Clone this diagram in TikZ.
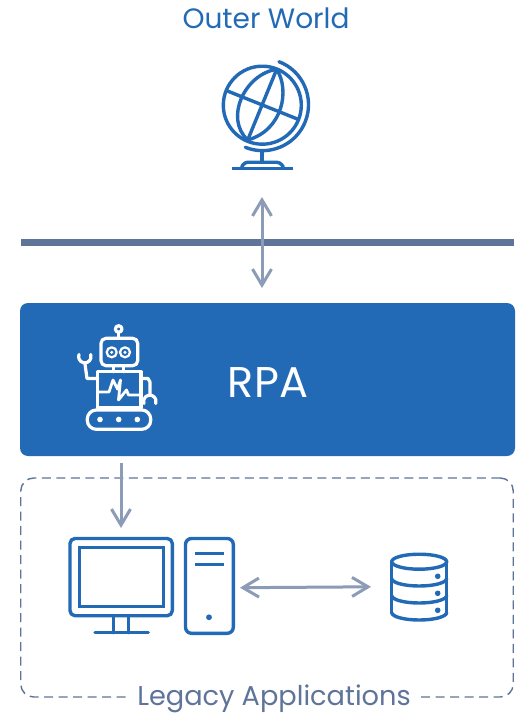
\documentclass[tikz,border=0pt]{standalone}
\usepackage{fontspec}
\setmainfont{Poppins}
\usetikzlibrary{arrows.meta}
\definecolor{rpablue}{HTML}{236AB6}
\definecolor{slate}{HTML}{5F7499}
\definecolor{arrowgrey}{HTML}{8C9BB6}
\tikzset{
  icon/.style={draw=rpablue,line width=3.4pt,line cap=round,line join=round},
  whiteicon/.style={draw=white,line width=3.2pt,line cap=round,line join=round},
  flow/.style={draw=arrowgrey,line width=3pt,{Straight Barb[length=16pt,width=19pt,line width=3pt]}-{Straight Barb[length=16pt,width=19pt,line width=3pt]}},
  flowone/.style={draw=arrowgrey,line width=3pt,-{Straight Barb[length=16pt,width=19pt,line width=3pt]}},
  caption/.style={inner sep=0pt,font=\fontsize{28}{32}\selectfont}
}
\begin{document}
\begin{tikzpicture}[x=1pt,y=1pt,yscale=-1]
\useasboundingbox (0,0) rectangle (519,714);
\fill[white] (0,0) rectangle (519,714);
% titles
\node[caption,text=rpablue] (outer) at (266,18) {Outer World};
% globe
\coordinate (gc) at (262.3,105.2);
\draw[icon] (gc) circle (39);
\coordinate (ptop) at (276.7,69.3);
\coordinate (pbot) at (247.7,140);
\draw[icon] (ptop) -- (pbot);
\draw[icon] (226.7,90.7) -- (297.3,119);
\draw[icon] (ptop) .. controls (245,74) and (224,118) .. (pbot);
\draw[icon] (ptop) .. controls (290,90) and (283,130) .. (pbot);
\draw[icon] (279,61.7) arc[start angle=-69,end angle=112,radius=46];
\draw[icon] (262,151.5) -- (262,162.3);
\draw[icon,rounded corners=3pt] (241.7,167) -- (244.5,162.3) -- (280,162.3) -- (283.3,167);
\draw[icon,line cap=butt,line width=3.6pt] (231.7,168.7) -- (293,168.7);
% separator
\draw[slate,line width=7pt] (21,242.5) -- (514,242.5);
\coordinate (sa) at (262,197);
\coordinate (sb) at (262,288);
\draw[flow] (sa) -- (sb);
% RPA
\node[fill=rpablue,rounded corners=8pt,minimum width=495pt,minimum height=153pt,inner sep=0pt] (rpa) at (267.5,379.5) {};
\node[caption,text=white,font=\fontsize{43}{46}\selectfont] (rpatext) at (268,383) {RPA};
% robot
\draw[whiteicon] (118.7,329) circle (3.3);
\draw[whiteicon] (118.7,332.5) -- (118.7,338.3);
\draw[whiteicon,rounded corners=5pt] (101,338.3) rectangle (137.7,365.7);
\draw[whiteicon,line width=2.2pt] (111.7,352.3) circle (5);
\draw[whiteicon,line width=2.2pt] (125,352.3) circle (5);
\fill[white] (111.7,352.3) circle (1.7);
\fill[white] (125,352.3) circle (1.7);
\draw[whiteicon] (113.3,365.7) -- (113.3,371.7);
\draw[whiteicon] (123.3,365.7) -- (123.3,371.7);
\draw[whiteicon] (97.7,371.7) rectangle (141,408);
\draw[whiteicon,line width=2.8pt] (97.7,392) -- (109,392) -- (113,380) -- (117.5,389) -- (120.5,380) -- (118.5,400) -- (126.5,390) -- (128.5,395) -- (141,395);
\draw[whiteicon] (97.7,378.5) -- (87,378.5) -- (85,364);
\draw[whiteicon] (79,354.5) arc[start angle=200,end angle=-20,radius=6.2];
\draw[whiteicon] (141,378.5) -- (148,378.5) -- (150,382) -- (150,395);
\draw[whiteicon] (144,403.5) arc[start angle=160,end angle=380,radius=6.2];
\draw[whiteicon,rounded corners=9pt] (87.3,410) rectangle (150.7,429.3);
\foreach \dx in {100,118.7,137.3} \fill[white] (\dx,419.5) circle (2.8);
% legacy box
\node[draw=slate,dashed,dash pattern=on 9pt off 5.5pt,line width=1.4pt,rounded corners=13pt,minimum width=492.5pt,minimum height=219pt,inner sep=0pt] (legacy) at (267,587.5) {};
\node[caption,text=slate,fill=white,inner xsep=8pt,inner ysep=0pt,font=\fontsize{27.2}{30}\selectfont] (legacytext) at (274,698.8) {Legacy Applications};
\coordinate (da) at (121,463);
\coordinate (db) at (121,528);
\draw[flowone] (da) -- (db);
% monitor
\draw[icon,rounded corners=5pt] (70,538.5) rectangle (172.3,615.7);
\draw[icon,line join=miter] (79.3,547.7) rectangle (163.3,606.7);
\draw[icon] (113.3,615.7) -- (113.3,632.7);
\draw[icon] (128.7,615.7) -- (128.7,632.7);
\draw[icon] (95,632.7) -- (148.3,632.7);
% tower
\draw[icon,rounded corners=6pt] (185.5,538.5) rectangle (233.3,633.3);
\draw[icon,line cap=butt] (195,553.7) -- (224,553.7);
\draw[icon,line cap=butt] (195,564.7) -- (224,564.7);
\fill[rpablue] (209,617.3) circle (2.9);
% link
\coordinate (la) at (240,587.7);
\coordinate (lb) at (371,586.8);
\draw[flow] (la) -- (lb);
% database
\draw[icon] (419.2,561.7) ellipse (27.5 and 7.5);
\draw[icon] (391.7,561.7) -- (391.7,612.5);
\draw[icon] (446.7,561.7) -- (446.7,612.5);
\draw[icon] (391.7,578.5) arc[start angle=180,end angle=0,x radius=27.5,y radius=7.5];
\draw[icon] (391.7,595.5) arc[start angle=180,end angle=0,x radius=27.5,y radius=7.5];
\draw[icon] (391.7,612.5) arc[start angle=180,end angle=0,x radius=27.5,y radius=7.5];
\foreach \dy in {576.3,593.3,610.3} \fill[rpablue] (437.7,\dy) circle (2.8);
\end{tikzpicture}
\end{document}
